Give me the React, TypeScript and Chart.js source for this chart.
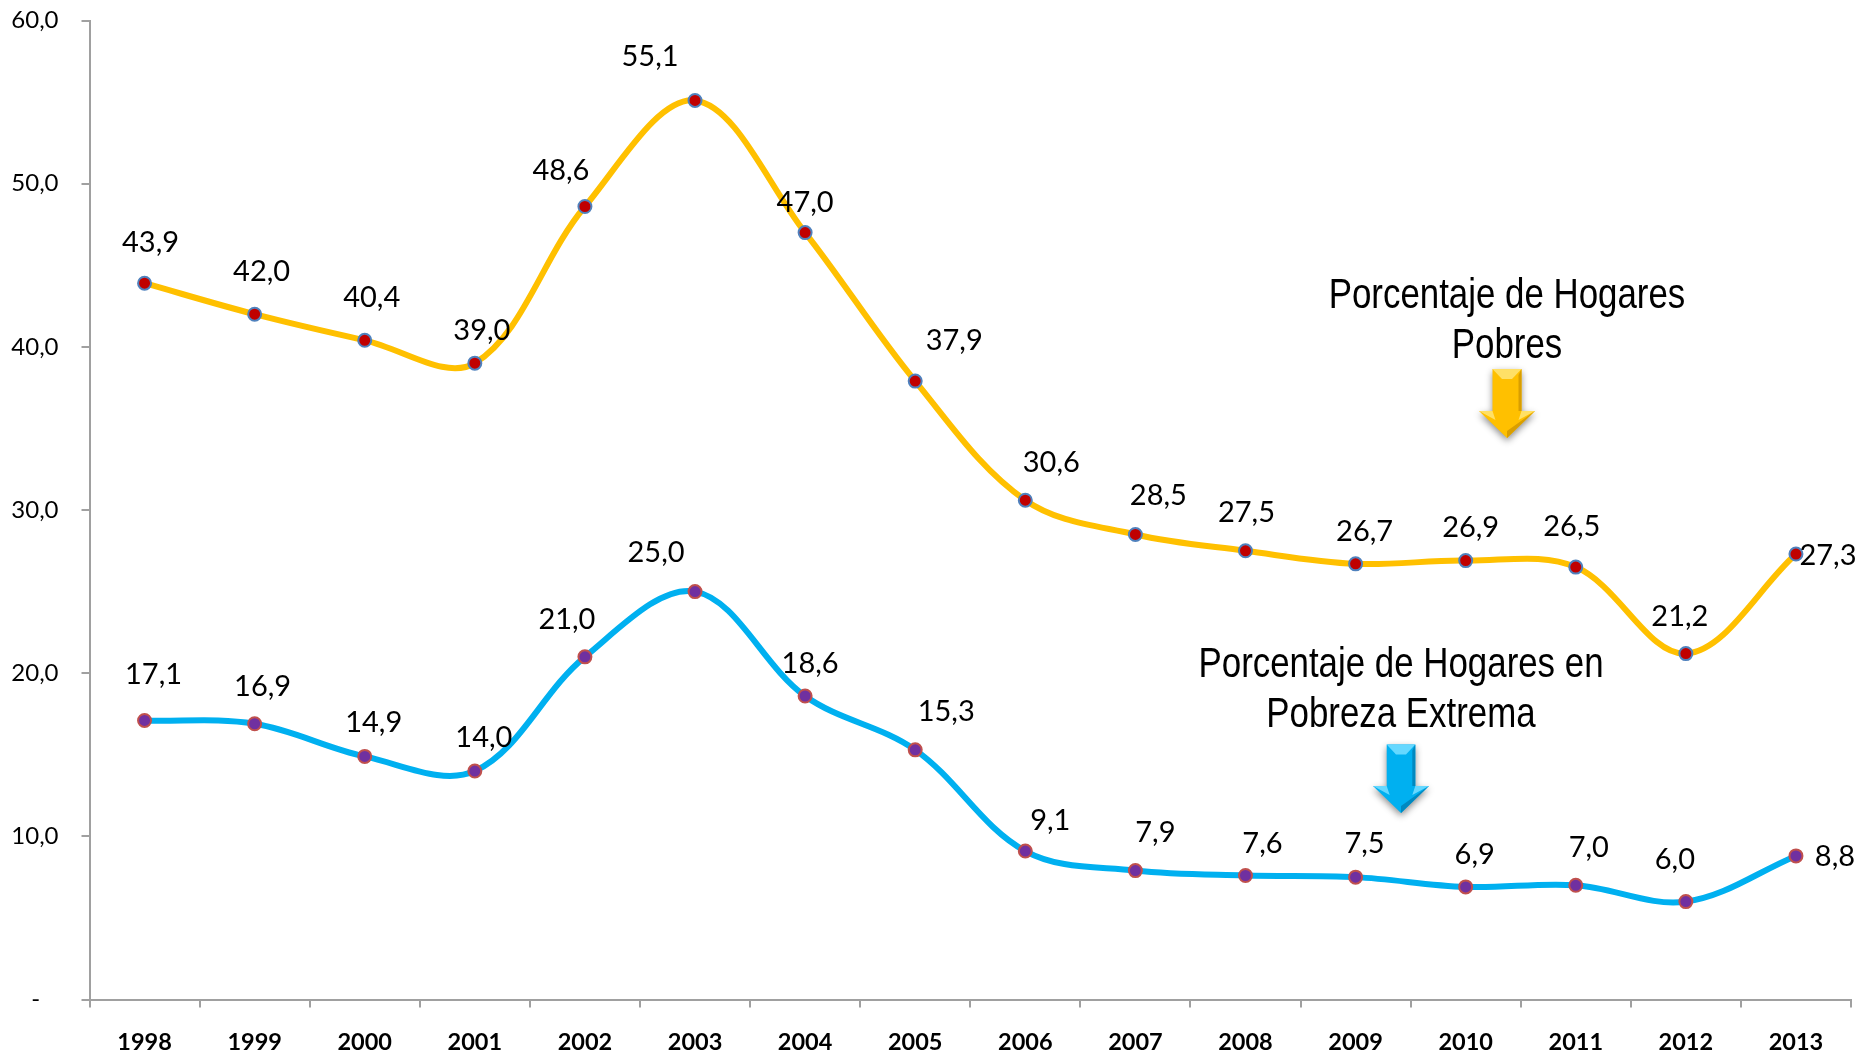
import React, { useEffect, useRef } from "react";
import { Chart, registerables } from "chart.js";

Chart.register(...registerables);

const years = ["1998","1999","2000","2001","2002","2003","2004","2005","2006","2007","2008","2009","2010","2011","2012","2013"];
const hogaresPobres = [43.9,42.0,40.4,39.0,48.6,55.1,47.0,37.9,30.6,28.5,27.5,26.7,26.9,26.5,21.2,27.3];
const pobrezaExtrema = [17.1,16.9,14.9,14.0,21.0,25.0,18.6,15.3,9.1,7.9,7.6,7.5,6.9,7.0,6.0,8.8];

// Offsets of each value label from its point (px)
const pobresOffsets = [[6,-41],[7,-43],[7,-43],[7,-33],[-24,-36],[-45,-44],[0,-30],[39,-40],[26,-38],[23,-39],[1,-38],[9,-32],[5,-33],[-4,-40],[-6,-37],[32,2]];
const extremaOffsets = [[9,-46],[8,-37],[9,-34],[9,-33],[-18,-37],[-39,-39],[5,-32],[31,-38],[25,-30],[20,-38],[17,-32],[9,-33],[9,-32],[13,-38],[-11,-42],[39,1]];

const notes = [
  { lines: ["Porcentaje de Hogares", "Pobres"], cx: 1507, baseline: 308, widthScale: 0.83 },
  { lines: ["Porcentaje de Hogares en", "Pobreza Extrema"], cx: 1401, baseline: 676.5, widthScale: 0.83 },
];
const arrows = [
  { cx: 1507, top: 369, shaft: 14.5, headTop: 411, half: 28, tip: 438, base: "#FFC000", light: "#FFE066", dark: "#D99E00" },
  { cx: 1401, top: 744.5, shaft: 14.3, headTop: 786, half: 28, tip: 813, base: "#00B0F0", light: "#66D8FF", dark: "#0089C0" },
];

const labelsPlugin = {
  id: "valueLabels",
  afterDatasetsDraw(chart: any) {
    const { ctx } = chart;
    ctx.save();
    ctx.font = '29px Lato, "Noto Sans", sans-serif';
    ctx.fillStyle = "#000";
    ctx.textAlign = "center";
    ctx.textBaseline = "middle";
    [pobresOffsets, extremaOffsets].forEach((offs, di) => {
      const meta = chart.getDatasetMeta(di);
      meta.data.forEach((pt: any, i: number) => {
        const v = chart.data.datasets[di].data[i] as number;
        ctx.fillText(v.toFixed(1).replace(".", ","), pt.x + offs[i][0], pt.y + offs[i][1]);
      });
    });
    ctx.restore();
  },
};

const notesPlugin = {
  id: "notes",
  afterDraw(chart: any) {
    const { ctx } = chart;
    ctx.save();
    ctx.fillStyle = "#000";
    ctx.textAlign = "center";
    ctx.textBaseline = "alphabetic";
    ctx.font = '42px "Liberation Sans", Arial, sans-serif';
    notes.forEach((n) => {
      n.lines.forEach((line, i) => {
        ctx.save();
        ctx.translate(n.cx, n.baseline + i * 50);
        ctx.scale(n.widthScale, 1);
        ctx.fillText(line, 0, 0);
        ctx.restore();
      });
    });
    arrows.forEach((a) => {
      const outline = () => {
        ctx.beginPath();
        ctx.moveTo(a.cx - a.shaft, a.top);
        ctx.lineTo(a.cx + a.shaft, a.top);
        ctx.lineTo(a.cx + a.shaft, a.headTop);
        ctx.lineTo(a.cx + a.half, a.headTop);
        ctx.lineTo(a.cx, a.tip);
        ctx.lineTo(a.cx - a.half, a.headTop);
        ctx.lineTo(a.cx - a.shaft, a.headTop);
        ctx.closePath();
      };
      ctx.save();
      ctx.shadowColor = "rgba(0,0,0,0.45)";
      ctx.shadowBlur = 7;
      ctx.shadowOffsetY = 3;
      ctx.fillStyle = a.base;
      outline();
      ctx.fill();
      ctx.restore();
      // bevel facets
      ctx.fillStyle = a.light;
      ctx.beginPath();
      ctx.moveTo(a.cx - a.shaft, a.top);
      ctx.lineTo(a.cx + a.shaft, a.top);
      ctx.lineTo(a.cx + 5, a.top + 10);
      ctx.lineTo(a.cx - 5, a.top + 10);
      ctx.closePath();
      ctx.fill();
      ctx.beginPath();
      ctx.moveTo(a.cx - a.half, a.headTop);
      ctx.lineTo(a.cx - a.shaft, a.headTop);
      ctx.lineTo(a.cx - a.shaft + 3, a.headTop + 9);
      ctx.closePath();
      ctx.moveTo(a.cx + a.half, a.headTop);
      ctx.lineTo(a.cx + a.shaft, a.headTop);
      ctx.lineTo(a.cx + a.shaft - 3, a.headTop + 9);
      ctx.closePath();
      ctx.fill();
      ctx.fillStyle = a.dark;
      ctx.beginPath();
      ctx.moveTo(a.cx + a.half, a.headTop);
      ctx.lineTo(a.cx, a.tip);
      ctx.lineTo(a.cx, a.tip - 7);
      ctx.closePath();
      ctx.moveTo(a.cx + a.shaft, a.top);
      ctx.lineTo(a.cx + a.shaft, a.headTop);
      ctx.lineTo(a.cx + a.shaft - 3, a.headTop);
      ctx.lineTo(a.cx + a.shaft - 3, a.top + 6);
      ctx.closePath();
      ctx.fill();
    });
    ctx.restore();
  },
};

export default function App() {
  const ref = useRef<HTMLCanvasElement>(null);
  useEffect(() => {
    const chart = new Chart(ref.current!, {
      type: "line",
      data: {
        labels: years,
        datasets: [
          {
            label: "Porcentaje de Hogares Pobres",
            data: hogaresPobres,
            borderColor: "#FFC000",
            borderWidth: 6,
            tension: 0.35,
            pointRadius: 6.5,
            pointBorderWidth: 2,
            pointBackgroundColor: "#C00000",
            pointBorderColor: "#4F81BD",
          },
          {
            label: "Porcentaje de Hogares en Pobreza Extrema",
            data: pobrezaExtrema,
            borderColor: "#00B0F0",
            borderWidth: 6,
            tension: 0.35,
            pointRadius: 6.5,
            pointBorderWidth: 2,
            pointBackgroundColor: "#7030A0",
            pointBorderColor: "#C0504D",
          },
        ],
      },
      options: {
        responsive: false,
        animation: false,
        layout: { padding: { top: 20.5, right: 9, left: 0, bottom: 0 } },
        plugins: { legend: { display: false }, title: { display: false }, tooltip: { enabled: false } },
        scales: {
          x: {
            type: "category",
            offset: true,
            afterFit: (s: any) => { s.height = 55.5; s.paddingLeft = 0; s.paddingRight = 0; },
            border: { color: "#A0A0A0", width: 2 },
            grid: { drawOnChartArea: false, color: "#A0A0A0", lineWidth: 2, tickLength: 8, offset: true },
            ticks: {
              autoSkip: false, maxRotation: 0, minRotation: 0, padding: 21, color: "#000",
              font: { family: 'Lato, "Noto Sans", sans-serif', size: 23.5, weight: "bold" },
            },
          },
          y: {
            min: 0, max: 60,
            afterFit: (s: any) => { s.width = 89.5; s.paddingTop = 0; s.paddingBottom = 0; },
            border: { color: "#A0A0A0", width: 2 },
            grid: { drawOnChartArea: false, color: "#A0A0A0", lineWidth: 2, tickLength: 8 },
            ticks: {
              stepSize: 10, padding: 23, color: "#000",
              font: { family: 'Lato, "Noto Sans", sans-serif', size: 24 },
              callback: (v: any) => (v === 0 ? "-   " : Number(v).toFixed(1).replace(".", ",")),
            },
          },
        },
      },
      plugins: [labelsPlugin, notesPlugin],
    } as any);
    return () => chart.destroy();
  }, []);
  return (
    <div style={{ position: "absolute", left: 0, top: 0, width: 1860, height: 1055, background: "#fff" }}>
      <canvas ref={ref} width={1860} height={1055} style={{ display: "block" }} />
    </div>
  );
}
